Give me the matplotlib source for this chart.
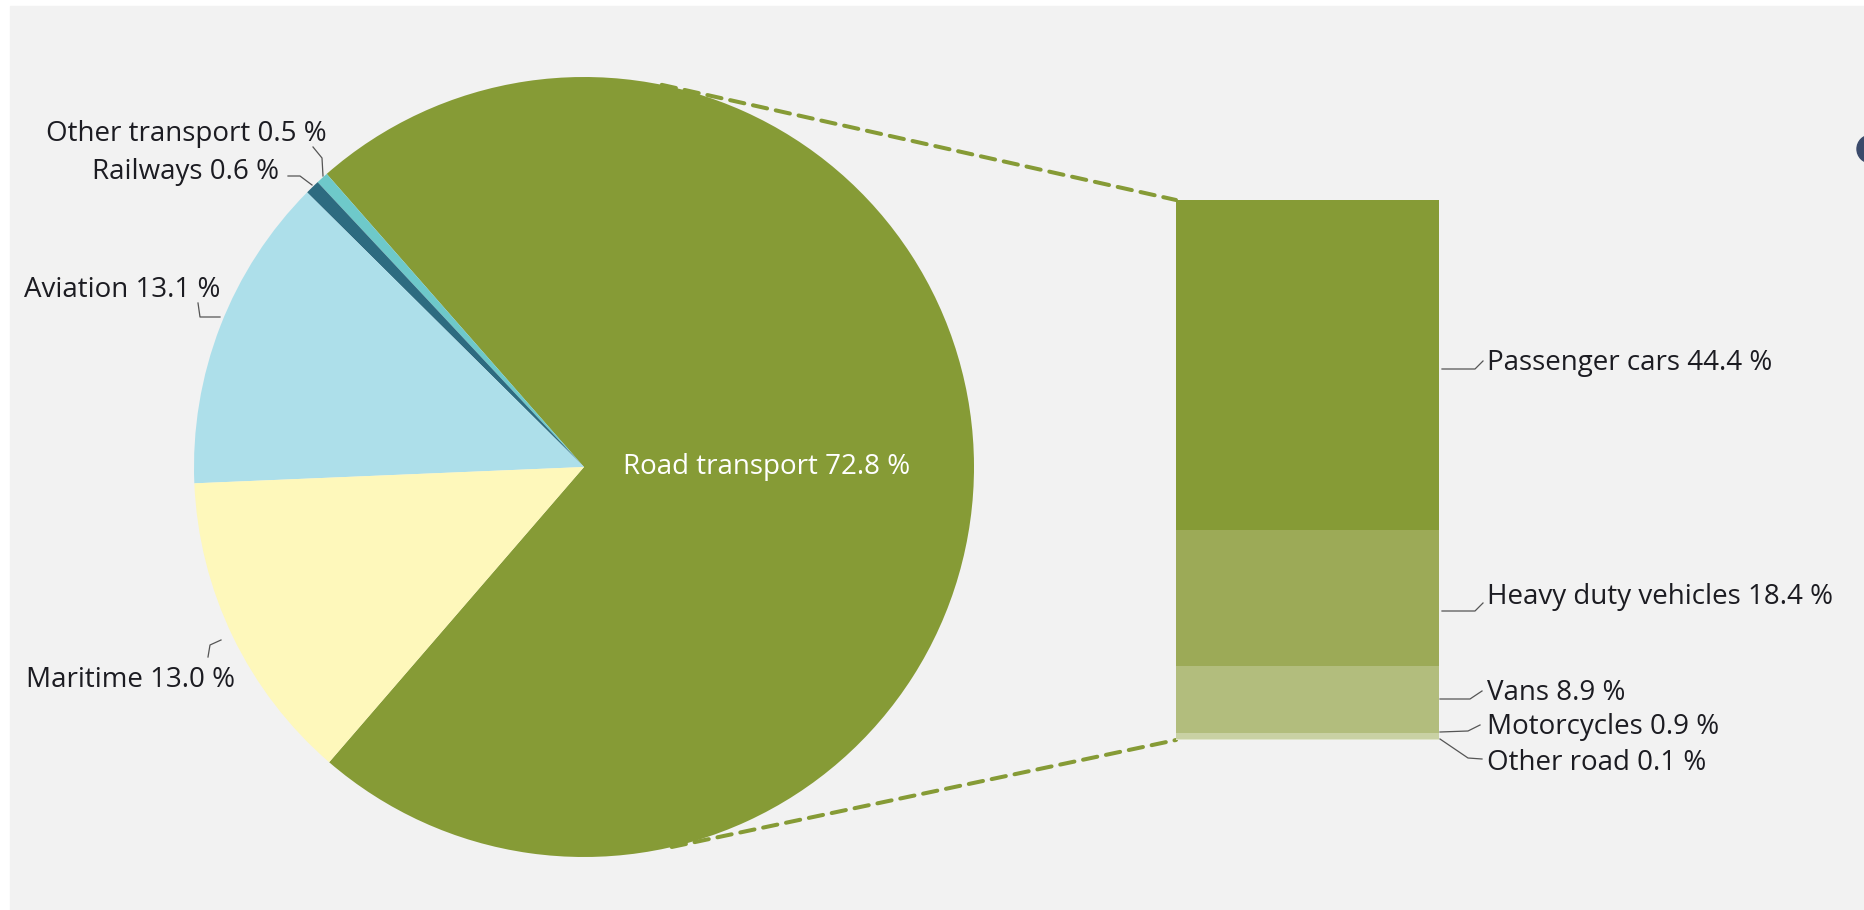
import matplotlib.pyplot as plt
from matplotlib.patches import Rectangle, Circle, ConnectionPatch
import numpy as np

plt.rcParams['font.family'] = ['Open Sans', 'DejaVu Sans']

# Transport emissions share (%)
pie_labels = ['Road transport', 'Other transport', 'Railways', 'Aviation', 'Maritime']
pie_values = [72.8, 0.5, 0.6, 13.1, 13.0]
pie_colors = ['#869b36', '#6ec9ca', '#2d6b80', '#addfea', '#fef8bb']

# Road transport breakdown (%), top to bottom
road_labels = ['Passenger cars', 'Heavy duty vehicles', 'Vans', 'Motorcycles', 'Other road']
road_values = [44.4, 18.4, 8.9, 0.9, 0.1]
road_colors = ['#869b36', '#9caa57', '#b2bd7d', '#c9d1a4', '#dfe4c9']

W, H = 1864, 910
fig = plt.figure(figsize=(W / 100, H / 100), dpi=100)
fig.patch.set_facecolor('white')

# background / label layer in pixel coords (y down)
bg = fig.add_axes([0, 0, 1, 1], zorder=0)
bg.set_xlim(0, W)
bg.set_ylim(H, 0)
bg.axis('off')
bg.add_patch(Rectangle((10, 6), W - 10, H - 6, color='#f2f2f2', zorder=0))
bg.add_patch(Circle((1871, 149), 14, color='#3b4a6b', zorder=1))

# pie
pax = fig.add_axes([194 / W, (H - 857) / H, 780 / W, 780 / H], zorder=1)
pax.pie(pie_values, colors=pie_colors, startangle=229.2, counterclock=True,
        radius=1, wedgeprops=dict(linewidth=0))
pax.set_xlim(-1, 1)
pax.set_ylim(-1, 1)
pax.set_aspect('equal')
pax.axis('off')
pax.text(0.467, 0.0, f'{pie_labels[0]} {pie_values[0]:.1f} %', color='white',
         fontsize=20, ha='center', va='center')

# stacked bar for road transport
bax = fig.add_axes([1176 / W, 170 / H, 263 / W, 540 / H], zorder=1)
bottom = sum(road_values)
for val, col in zip(road_values, road_colors):
    bottom -= val
    bax.bar(0, val, bottom=bottom, width=1, color=col, linewidth=0)
bax.set_xlim(-0.5, 0.5)
bax.set_ylim(0, sum(road_values))
bax.axis('off')

# dashed connectors
for ang, yb in [(78.5, sum(road_values)), (-77, 0)]:
    a = np.radians(ang)
    con = ConnectionPatch(xyA=(np.cos(a), np.sin(a)), coordsA=pax.transData,
                          xyB=(-0.5, yb), coordsB=bax.transData,
                          color='#869b36', linewidth=2.9, linestyle=(0, (3.6, 2.2)))
    fig.add_artist(con)

txt_color = '#1c1c22'
line_color = '#555555'
fs = 20
dy = 3

# pie labels: (text x, text y, ha, leader points)
pie_label_pos = {
    'Other transport': (327, 131, 'right', [(313, 147), (322, 158), (323, 176)]),
    'Railways': (279, 169, 'right', [(288, 176), (300, 176), (312, 185)]),
    'Aviation': (220, 287, 'right', [(198, 303), (200, 317), (220, 317)]),
    'Maritime': (235, 677, 'right', [(208, 657), (210, 645), (221, 640)]),
}
for lab, val in zip(pie_labels, pie_values):
    if lab not in pie_label_pos:
        continue
    x, y, ha, pts = pie_label_pos[lab]
    bg.text(x, y + dy, f'{lab} {val:.1f} %', fontsize=fs, color=txt_color, ha=ha, va='center')
    px, py = zip(*pts)
    bg.plot(px, py, color=line_color, linewidth=0.9)

bar_label_pos = {
    'Passenger cars': (360, [(1442, 369), (1475, 369), (1483, 361)]),
    'Heavy duty vehicles': (594, [(1442, 611), (1475, 611), (1483, 603)]),
    'Vans': (690, [(1440, 699), (1470, 699), (1482, 691)]),
    'Motorcycles': (724, [(1440, 732), (1468, 731), (1480, 725)]),
    'Other road': (760, [(1440, 739), (1468, 758), (1482, 759)]),
}
for lab, val in zip(road_labels, road_values):
    y, pts = bar_label_pos[lab]
    bg.text(1487, y + dy, f'{lab} {val:.1f} %', fontsize=fs, color=txt_color, ha='left', va='center')
    px, py = zip(*pts)
    bg.plot(px, py, color=line_color, linewidth=0.9)

fig.savefig('out.png', dpi=100, facecolor=fig.get_facecolor())
